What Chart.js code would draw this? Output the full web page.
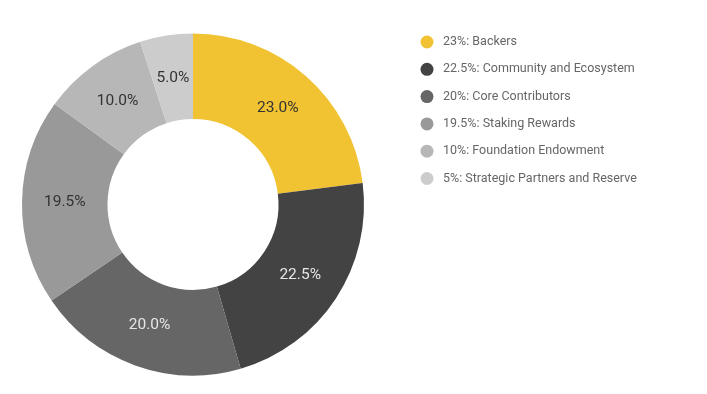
<!DOCTYPE html>
<html>
<head>
<meta charset="utf-8">
<script src="https://cdn.jsdelivr.net/npm/chart.js@4"></script>
<style>
  html, body { margin: 0; padding: 0; background: #fff; }
  #wrap { width: 707px; height: 394px; }
</style>
</head>
<body>
<div id="wrap"><canvas id="tokenChart" width="707" height="394"></canvas></div>
<script>
const labels = ['Backers', 'Community and Ecosystem', 'Core Contributors', 'Staking Rewards', 'Foundation Endowment', 'Strategic Partners and Reserve'];
const legendPct = ['23%', '22.5%', '20%', '19.5%', '10%', '5%'];
const values = [23, 22.5, 20, 19.5, 10, 5];
const colors = ['#f1c232', '#434343', '#666666', '#999999', '#b7b7b7', '#cccccc'];
const labelColors = ['#333333', '#e6e6e6', '#e6e6e6', '#333333', '#333333', '#333333'];

// percentage labels in the middle of each ring slice
const sliceLabels = {
    id: 'sliceLabels',
    afterDatasetsDraw(chart) {
        const ctx = chart.ctx;
        const meta = chart.getDatasetMeta(0);
        const total = values.reduce((a, b) => a + b, 0);
        ctx.save();
        ctx.font = '15.5px Roboto';
        ctx.textAlign = 'center';
        ctx.textBaseline = 'middle';
        meta.data.forEach((arc, i) => {
            const p = arc.tooltipPosition();
            ctx.fillStyle = labelColors[i];
            ctx.fillText((values[i] / total * 100).toFixed(1) + '%', p.x, p.y);
        });
        ctx.restore();
    }
};

// legend drawn to the right, top aligned
const sideLegend = {
    id: 'sideLegend',
    afterDraw(chart) {
        const ctx = chart.ctx;
        ctx.save();
        ctx.font = '12.5px Roboto';
        ctx.textBaseline = 'middle';
        labels.forEach((name, i) => {
            const y = 42 + i * 27.3;
            ctx.fillStyle = colors[i];
            ctx.beginPath();
            ctx.arc(427, y, 6.5, 0, Math.PI * 2);
            ctx.fill();
            ctx.fillStyle = '#666666';
            ctx.fillText(legendPct[i] + ': ' + name, 443, y);
        });
        ctx.restore();
    }
};

new Chart(document.getElementById('tokenChart'), {
    type: 'doughnut',
    data: {
        labels: labels,
        datasets: [{
            data: values,
            backgroundColor: colors,
            borderWidth: 0
        }]
    },
    options: {
        responsive: false,
        animation: false,
        cutout: '50%',
        layout: { padding: { left: 22, top: 33, bottom: 18, right: 343 } },
        plugins: {
            legend: { display: false },
            tooltip: { enabled: false }
        }
    },
    plugins: [sliceLabels, sideLegend]
});
</script>
</body>
</html>
